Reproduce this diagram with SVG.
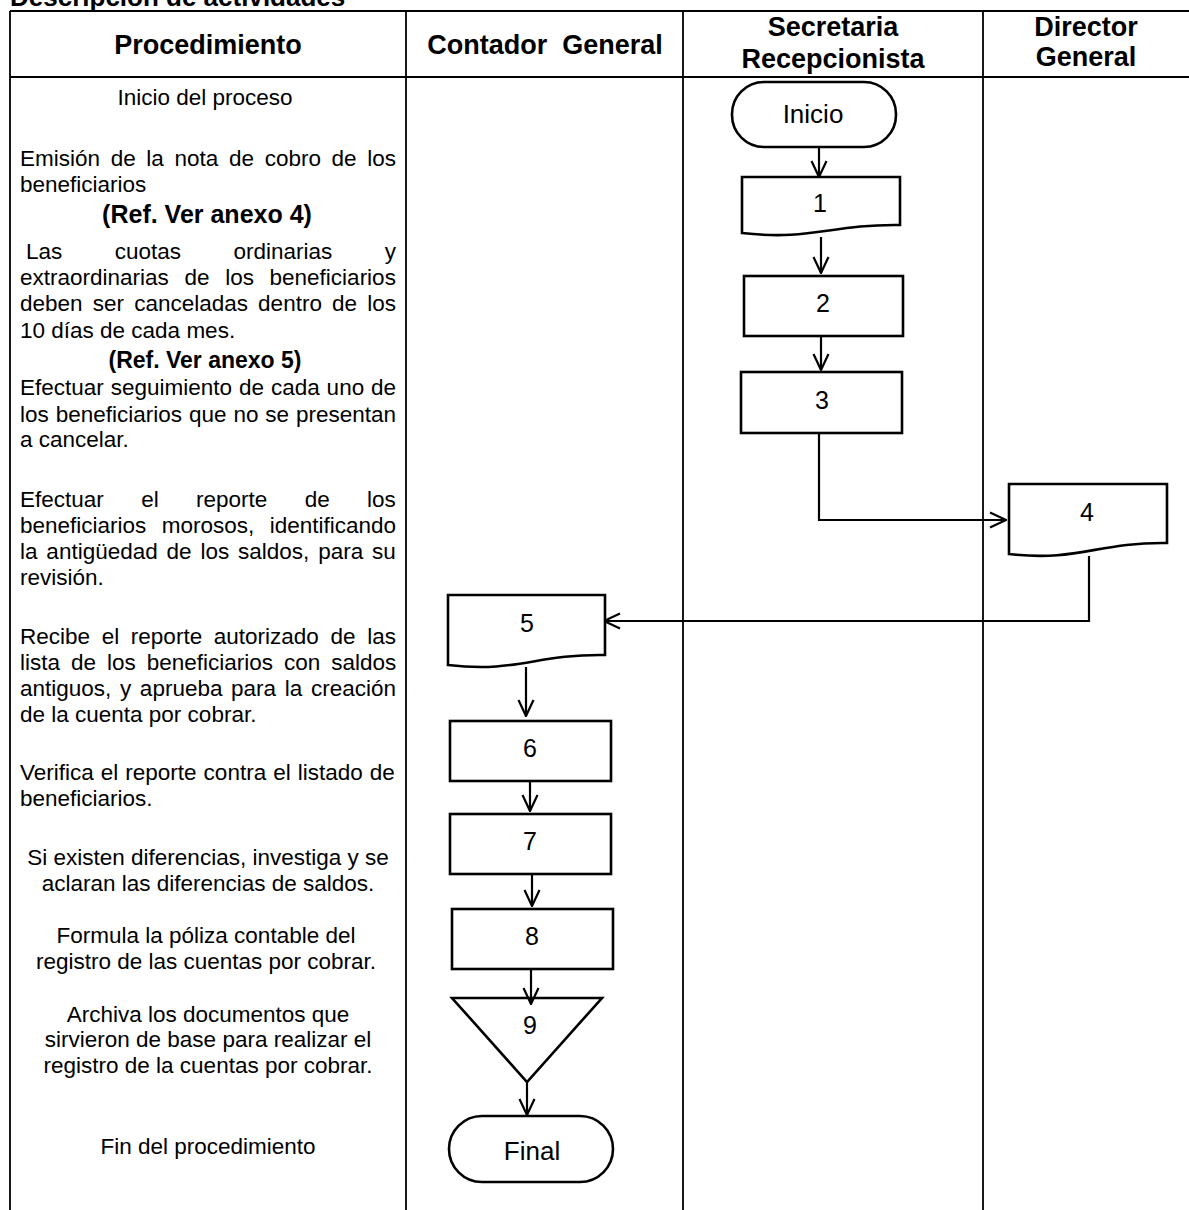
<svg xmlns="http://www.w3.org/2000/svg" width="1189" height="1210" viewBox="0 0 1189 1210">
<defs>
<style>
text{font-family:"Liberation Sans",Arial,sans-serif;fill:#000}
.hd{font-size:27px;font-weight:bold;text-anchor:middle}
.tt{font-size:26px;font-weight:bold}
.bd{font-size:22.5px}
.c{text-anchor:middle}
.ref{font-weight:bold;text-anchor:middle}
.lane{stroke:#000;stroke-width:1.8;fill:none}
.shape{fill:#fff;stroke:#000;stroke-width:2.6}
.lbl{font-size:25px;text-anchor:middle}
.term{font-size:26px;text-anchor:middle}
.conn{fill:none;stroke:#000;stroke-width:2.2}
</style>
<marker id="arr" viewBox="0 0 18 18" refX="17" refY="9" markerWidth="18" markerHeight="18" markerUnits="userSpaceOnUse" orient="auto">
<path d="M1,1.5 L17,9 L1,16.5" fill="none" stroke="#000" stroke-width="2.2"/>
</marker>
</defs>
<rect width="1189" height="1210" fill="#fff"/>
<text class="tt" x="10" y="6">Descripción de actividades</text>
<g id="table">
<path class="lane" d="M10,11 H1189 M10,77 H1189 M10,11 V1210 M406,11 V1210 M683,11 V1210 M983,11 V1210"/>
<text class="hd" x="208" y="54">Procedimiento</text>
<text class="hd" x="545" y="54" xml:space="preserve">Contador  General</text>
<text class="hd" x="833" y="36">Secretaria</text>
<text class="hd" x="833" y="68">Recepcionista</text>
<text class="hd" x="1086" y="36">Director</text>
<text class="hd" x="1086" y="66">General</text>
</g>
<g id="procedimiento">
<text class="bd c" x="205" y="105">Inicio del proceso</text>
<text class="bd" x="20" y="166" word-spacing="4.4">Emisión de la nota de cobro de los</text>
<text class="bd" x="20" y="192">beneficiarios</text>
<text class="ref" x="207" y="223" style="font-size:25px">(Ref. Ver anexo 4)</text>
<text class="bd" x="26" y="259" word-spacing="46.2">Las cuotas ordinarias y</text>
<text class="bd" x="20" y="285" word-spacing="9.4">extraordinarias de los beneficiarios</text>
<text class="bd" x="20" y="311" word-spacing="3.9">deben ser canceladas dentro de los</text>
<text class="bd" x="20" y="338">10 días de cada mes.</text>
<text class="ref" x="205" y="368" style="font-size:23px">(Ref. Ver anexo 5)</text>
<text class="bd" x="20" y="395" word-spacing="0.67">Efectuar seguimiento de cada uno de</text>
<text class="bd" x="20" y="422" word-spacing="0.67">los beneficiarios que no se presentan</text>
<text class="bd" x="20" y="447">a cancelar.</text>
<text class="bd" x="20" y="507" word-spacing="31.1">Efectuar el reporte de los</text>
<text class="bd" x="20" y="533" word-spacing="9.2">beneficiarios morosos, identificando</text>
<text class="bd" x="20" y="559" word-spacing="2.6">la antigüedad de los saldos, para su</text>
<text class="bd" x="20" y="585">revisión.</text>
<text class="bd" x="20" y="644" word-spacing="5.4">Recibe el reporte autorizado de las</text>
<text class="bd" x="20" y="670" word-spacing="4.7">lista de los beneficiarios con saldos</text>
<text class="bd" x="20" y="696" word-spacing="2.4">antiguos, y aprueba para la creación</text>
<text class="bd" x="20" y="722">de la cuenta por cobrar.</text>
<text class="bd" x="20" y="780" word-spacing="0.76">Verifica el reporte contra el listado de</text>
<text class="bd" x="20" y="806">beneficiarios.</text>
<text class="bd c" x="208" y="865">Si existen diferencias, investiga y se</text>
<text class="bd c" x="208" y="891">aclaran las diferencias de saldos.</text>
<text class="bd c" x="206" y="943">Formula la póliza contable del</text>
<text class="bd c" x="206" y="969">registro de las cuentas por cobrar.</text>
<text class="bd c" x="208" y="1022">Archiva los documentos que</text>
<text class="bd c" x="208" y="1047">sirvieron de base para realizar el</text>
<text class="bd c" x="208" y="1073">registro de la cuentas por cobrar.</text>
<text class="bd c" x="208" y="1154">Fin del procedimiento</text>
</g>
<g id="connectors">
<path class="conn" d="M819,147 V177" marker-end="url(#arr)"/>
<path class="conn" d="M821,237 V273" marker-end="url(#arr)"/>
<path class="conn" d="M821,336 V370" marker-end="url(#arr)"/>
<path class="conn" d="M819,433 V520 H1006" marker-end="url(#arr)"/>
<path class="conn" d="M1089,556 V621 H604" marker-end="url(#arr)"/>
<path class="conn" d="M526,667 V716" marker-end="url(#arr)"/>
<path class="conn" d="M530,781 V811" marker-end="url(#arr)"/>
<path class="conn" d="M532,874 V906" marker-end="url(#arr)"/>
</g>
<g id="inicio">
<rect class="shape" x="732" y="82" width="164" height="65" rx="32" ry="32"/>
<text class="term" x="813" y="123">Inicio</text>
</g>
<g id="n1">
<path class="shape" d="M742,177 H900 V225 C830,224 812,241 742,233 Z"/>
<text class="lbl" x="820" y="212">1</text>
</g>
<g id="n2">
<rect class="shape" x="744" y="276" width="159" height="60"/>
<text class="lbl" x="823" y="312">2</text>
</g>
<g id="n3">
<rect class="shape" x="741" y="372" width="161" height="61"/>
<text class="lbl" x="822" y="409">3</text>
</g>
<g id="n4">
<path class="shape" d="M1009,484 H1167 V543 C1097,542 1079,562 1009,554 Z"/>
<text class="lbl" x="1087" y="521">4</text>
</g>
<g id="n5">
<path class="shape" d="M448,595 H605 V655 C535,654 518,673 448,665 Z"/>
<text class="lbl" x="527" y="632">5</text>
</g>
<g id="n6">
<rect class="shape" x="450" y="721" width="161" height="60"/>
<text class="lbl" x="530" y="757">6</text>
</g>
<g id="n7">
<rect class="shape" x="450" y="814" width="161" height="60"/>
<text class="lbl" x="530" y="850">7</text>
</g>
<g id="n8">
<rect class="shape" x="452" y="909" width="161" height="60"/>
<text class="lbl" x="532" y="945">8</text>
</g>
<g id="n9">
<path class="shape" d="M452,998 H602 L527,1082 Z"/>
<text class="lbl" x="530" y="1034">9</text>
</g>
<g id="final">
<rect class="shape" x="449" y="1116" width="164" height="66" rx="33" ry="33"/>
<text class="term" x="532" y="1160">Final</text>
</g>
<g id="connectors-over">
<path class="conn" d="M531,969 V1004" marker-end="url(#arr)"/>
<path class="conn" d="M527,1082 V1115" marker-end="url(#arr)"/>
</g>
</svg>
